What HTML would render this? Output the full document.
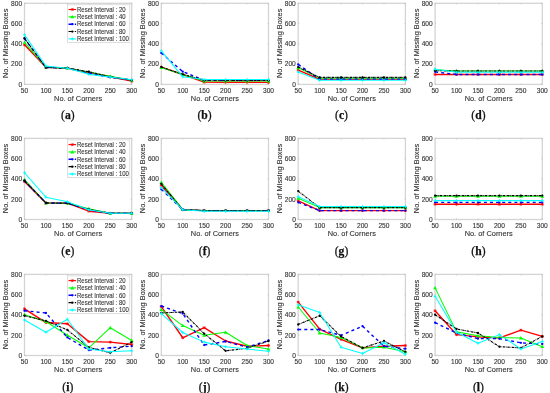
<!DOCTYPE html>
<html><head><meta charset="utf-8"><style>
html,body{margin:0;padding:0;background:#fff;}
body{width:550px;height:393px;overflow:hidden;position:relative;}
svg{display:block;}
body{filter:blur(0.3px);}
text{font-family:"Liberation Sans",sans-serif;font-size:6.6px;fill:#333;stroke:#333;stroke-width:0.12px;}
.ov{position:absolute;left:0;top:0;opacity:0.999;}
text.lb{font-size:7.4px;fill:#333;stroke:#333;stroke-width:0.12px;}
text.lg{font-size:6.7px;fill:#333;stroke:#333;stroke-width:0.1px;}
text.cap{font-family:"Liberation Serif",serif;font-weight:normal;font-size:11.6px;fill:#111;stroke:#111;stroke-width:0.25px;}
</style></head><body>
<svg width="550" height="393" viewBox="0 0 550 393">
<rect width="550" height="393" fill="#fff"/>
<g><rect x="24.5" y="3.3" width="107.2" height="81.1" fill="#fff" stroke="#d4d4d4" stroke-width="1.3"/><path d="M24.5 84.4v-1.2M24.5 3.3v1.2" stroke="#bdbdbd" stroke-width="0.6"/><path d="M45.94 84.4v-1.2M45.94 3.3v1.2" stroke="#bdbdbd" stroke-width="0.6"/><path d="M67.38 84.4v-1.2M67.38 3.3v1.2" stroke="#bdbdbd" stroke-width="0.6"/><path d="M88.82 84.4v-1.2M88.82 3.3v1.2" stroke="#bdbdbd" stroke-width="0.6"/><path d="M110.26 84.4v-1.2M110.26 3.3v1.2" stroke="#bdbdbd" stroke-width="0.6"/><path d="M131.7 84.4v-1.2M131.7 3.3v1.2" stroke="#bdbdbd" stroke-width="0.6"/><path d="M24.5 84.4h1.2M131.7 84.4h-1.2" stroke="#bdbdbd" stroke-width="0.6"/><path d="M24.5 64.12h1.2M131.7 64.12h-1.2" stroke="#bdbdbd" stroke-width="0.6"/><path d="M24.5 43.85h1.2M131.7 43.85h-1.2" stroke="#bdbdbd" stroke-width="0.6"/><path d="M24.5 23.57h1.2M131.7 23.57h-1.2" stroke="#bdbdbd" stroke-width="0.6"/><path d="M24.5 3.3h1.2M131.7 3.3h-1.2" stroke="#bdbdbd" stroke-width="0.6"/><path d="M24.5 44.86 L45.94 67.17 L67.38 68.18 L88.82 72.74 L110.26 76.8 L131.7 81.16" fill="none" stroke="#ff0000" stroke-width="1.4" stroke-linejoin="round"/><path d="M23 44.86H26M24.5 43.36V46.36M23.45 43.81L25.55 45.91M23.45 45.91L25.55 43.81" stroke="#ff0000" stroke-width="0.8" fill="none"/><path d="M44.44 67.17H47.44M45.94 65.67V68.67M44.89 66.12L46.99 68.22M44.89 68.22L46.99 66.12" stroke="#ff0000" stroke-width="0.8" fill="none"/><path d="M65.88 68.18H68.88M67.38 66.68V69.68M66.33 67.13L68.43 69.23M66.33 69.23L68.43 67.13" stroke="#ff0000" stroke-width="0.8" fill="none"/><path d="M87.32 72.74H90.32M88.82 71.24V74.24M87.77 71.69L89.87 73.79M87.77 73.79L89.87 71.69" stroke="#ff0000" stroke-width="0.8" fill="none"/><path d="M108.76 76.8H111.76M110.26 75.3V78.3M109.21 75.75L111.31 77.85M109.21 77.85L111.31 75.75" stroke="#ff0000" stroke-width="0.8" fill="none"/><path d="M130.2 81.16H133.2M131.7 79.66V82.66M130.65 80.11L132.75 82.21M130.65 82.21L132.75 80.11" stroke="#ff0000" stroke-width="0.8" fill="none"/><path d="M24.5 42.33 L45.94 67.17 L67.38 68.18 L88.82 72.23 L110.26 76.29 L131.7 80.34" fill="none" stroke="#00ff00" stroke-width="1.05" stroke-linejoin="round"/><path d="M24.5 40.43L26.4 43.75L22.6 43.75Z" fill="#00ff00"/><path d="M45.94 65.27L47.84 68.59L44.04 68.59Z" fill="#00ff00"/><path d="M67.38 66.28L69.28 69.6L65.48 69.6Z" fill="#00ff00"/><path d="M88.82 70.33L90.72 73.66L86.92 73.66Z" fill="#00ff00"/><path d="M110.26 74.39L112.16 77.71L108.36 77.71Z" fill="#00ff00"/><path d="M131.7 78.44L133.6 81.77L129.8 81.77Z" fill="#00ff00"/><path d="M24.5 38.58 L45.94 67.37 L67.38 68.18 L88.82 73.25 L110.26 77.3 L131.7 79.94" fill="none" stroke="#0000ff" stroke-width="1.4" stroke-linejoin="round" stroke-dasharray="3,3.1"/><circle cx="24.5" cy="38.58" r="1.15" fill="#0000ff"/><circle cx="45.94" cy="67.37" r="1.15" fill="#0000ff"/><circle cx="67.38" cy="68.18" r="1.15" fill="#0000ff"/><circle cx="88.82" cy="73.25" r="1.15" fill="#0000ff"/><circle cx="110.26" cy="77.3" r="1.15" fill="#0000ff"/><circle cx="131.7" cy="79.94" r="1.15" fill="#0000ff"/><path d="M24.5 38.27 L45.94 67.67 L67.38 67.98 L88.82 71.73 L110.26 76.8 L131.7 80.34" fill="none" stroke="#000000" stroke-width="1.1" stroke-linejoin="round" stroke-dasharray="2.4,0.7,0.7,0.7"/><circle cx="24.5" cy="38.27" r="1.15" fill="#000000"/><circle cx="45.94" cy="67.67" r="1.15" fill="#000000"/><circle cx="67.38" cy="67.98" r="1.15" fill="#000000"/><circle cx="88.82" cy="71.73" r="1.15" fill="#000000"/><circle cx="110.26" cy="76.8" r="1.15" fill="#000000"/><circle cx="131.7" cy="80.34" r="1.15" fill="#000000"/><path d="M24.5 34.83 L45.94 66.05 L67.38 68.18 L88.82 74.36 L110.26 77.1 L131.7 79.74" fill="none" stroke="#00ffff" stroke-width="1.05" stroke-linejoin="round"/><path d="M23 34.83H26M24.5 33.33V36.33" stroke="#00ffff" stroke-width="0.9" fill="none"/><path d="M44.44 66.05H47.44M45.94 64.55V67.55" stroke="#00ffff" stroke-width="0.9" fill="none"/><path d="M65.88 68.18H68.88M67.38 66.68V69.68" stroke="#00ffff" stroke-width="0.9" fill="none"/><path d="M87.32 74.36H90.32M88.82 72.86V75.86" stroke="#00ffff" stroke-width="0.9" fill="none"/><path d="M108.76 77.1H111.76M110.26 75.6V78.6" stroke="#00ffff" stroke-width="0.9" fill="none"/><path d="M130.2 79.74H133.2M131.7 78.24V81.24" stroke="#00ffff" stroke-width="0.9" fill="none"/><rect x="67.5" y="4.8" width="62.3" height="37.7" fill="#fff" stroke="#c8c8c8" stroke-width="0.6"/><path d="M68.5 9.5H76.1" stroke="#ff0000" stroke-width="1.1"/><path d="M70.8 9.5H73.8M72.3 8V11M71.25 8.45L73.35 10.55M71.25 10.55L73.35 8.45" stroke="#ff0000" stroke-width="0.8" fill="none"/><path d="M68.5 16.85H76.1" stroke="#00ff00" stroke-width="1.1"/><path d="M72.3 14.95L74.2 18.28L70.4 18.28Z" fill="#00ff00"/><path d="M68.5 24.2H76.1" stroke="#0000ff" stroke-width="1.5" stroke-dasharray="4.8,1.5,1.3,9"/><circle cx="72.3" cy="24.2" r="1.15" fill="#0000ff"/><path d="M68.5 31.55H76.1" stroke="#000000" stroke-width="1.1" stroke-dasharray="4.8,1.5,1.3,9"/><circle cx="72.3" cy="31.55" r="1.15" fill="#000000"/><path d="M68.5 38.9H76.1" stroke="#00ffff" stroke-width="1.1"/><path d="M70.8 38.9H73.8M72.3 37.4V40.4" stroke="#00ffff" stroke-width="0.9" fill="none"/></g>
<g><rect x="161.3" y="3.3" width="107.2" height="81.1" fill="#fff" stroke="#d4d4d4" stroke-width="1.3"/><path d="M161.3 84.4v-1.2M161.3 3.3v1.2" stroke="#bdbdbd" stroke-width="0.6"/><path d="M182.74 84.4v-1.2M182.74 3.3v1.2" stroke="#bdbdbd" stroke-width="0.6"/><path d="M204.18 84.4v-1.2M204.18 3.3v1.2" stroke="#bdbdbd" stroke-width="0.6"/><path d="M225.62 84.4v-1.2M225.62 3.3v1.2" stroke="#bdbdbd" stroke-width="0.6"/><path d="M247.06 84.4v-1.2M247.06 3.3v1.2" stroke="#bdbdbd" stroke-width="0.6"/><path d="M268.5 84.4v-1.2M268.5 3.3v1.2" stroke="#bdbdbd" stroke-width="0.6"/><path d="M161.3 84.4h1.2M268.5 84.4h-1.2" stroke="#bdbdbd" stroke-width="0.6"/><path d="M161.3 64.12h1.2M268.5 64.12h-1.2" stroke="#bdbdbd" stroke-width="0.6"/><path d="M161.3 43.85h1.2M268.5 43.85h-1.2" stroke="#bdbdbd" stroke-width="0.6"/><path d="M161.3 23.57h1.2M268.5 23.57h-1.2" stroke="#bdbdbd" stroke-width="0.6"/><path d="M161.3 3.3h1.2M268.5 3.3h-1.2" stroke="#bdbdbd" stroke-width="0.6"/><path d="M161.3 67.17 L182.74 74.47 L204.18 82.17 L225.62 82.27 L247.06 82.27 L268.5 82.37" fill="none" stroke="#ff0000" stroke-width="1.4" stroke-linejoin="round"/><path d="M159.8 67.17H162.8M161.3 65.67V68.67M160.25 66.12L162.35 68.22M160.25 68.22L162.35 66.12" stroke="#ff0000" stroke-width="0.8" fill="none"/><path d="M181.24 74.47H184.24M182.74 72.97V75.97M181.69 73.42L183.79 75.52M181.69 75.52L183.79 73.42" stroke="#ff0000" stroke-width="0.8" fill="none"/><path d="M202.68 82.17H205.68M204.18 80.67V83.67M203.13 81.12L205.23 83.22M203.13 83.22L205.23 81.12" stroke="#ff0000" stroke-width="0.8" fill="none"/><path d="M224.12 82.27H227.12M225.62 80.77V83.77M224.57 81.22L226.67 83.32M224.57 83.32L226.67 81.22" stroke="#ff0000" stroke-width="0.8" fill="none"/><path d="M245.56 82.27H248.56M247.06 80.77V83.77M246.01 81.22L248.11 83.32M246.01 83.32L248.11 81.22" stroke="#ff0000" stroke-width="0.8" fill="none"/><path d="M267 82.37H270M268.5 80.87V83.87M267.45 81.32L269.55 83.42M267.45 83.42L269.55 81.32" stroke="#ff0000" stroke-width="0.8" fill="none"/><path d="M161.3 67.57 L182.74 74.47 L204.18 80.95 L225.62 81.05 L247.06 81.05 L268.5 81.05" fill="none" stroke="#00ff00" stroke-width="1.05" stroke-linejoin="round"/><path d="M161.3 65.67L163.2 69L159.4 69Z" fill="#00ff00"/><path d="M182.74 72.57L184.64 75.89L180.84 75.89Z" fill="#00ff00"/><path d="M204.18 79.05L206.08 82.38L202.28 82.38Z" fill="#00ff00"/><path d="M225.62 79.15L227.52 82.48L223.72 82.48Z" fill="#00ff00"/><path d="M247.06 79.15L248.96 82.48L245.16 82.48Z" fill="#00ff00"/><path d="M268.5 79.15L270.4 82.48L266.6 82.48Z" fill="#00ff00"/><path d="M161.3 52.97 L182.74 71.63 L204.18 80.24 L225.62 80.34 L247.06 80.34 L268.5 80.34" fill="none" stroke="#0000ff" stroke-width="1.4" stroke-linejoin="round" stroke-dasharray="3,3.1"/><circle cx="161.3" cy="52.97" r="1.15" fill="#0000ff"/><circle cx="182.74" cy="71.63" r="1.15" fill="#0000ff"/><circle cx="204.18" cy="80.24" r="1.15" fill="#0000ff"/><circle cx="225.62" cy="80.34" r="1.15" fill="#0000ff"/><circle cx="247.06" cy="80.34" r="1.15" fill="#0000ff"/><circle cx="268.5" cy="80.34" r="1.15" fill="#0000ff"/><path d="M161.3 66.96 L182.74 74.36 L204.18 80.24 L225.62 80.34 L247.06 80.34 L268.5 80.34" fill="none" stroke="#000000" stroke-width="1.1" stroke-linejoin="round" stroke-dasharray="2.4,0.7,0.7,0.7"/><circle cx="161.3" cy="66.96" r="1.15" fill="#000000"/><circle cx="182.74" cy="74.36" r="1.15" fill="#000000"/><circle cx="204.18" cy="80.24" r="1.15" fill="#000000"/><circle cx="225.62" cy="80.34" r="1.15" fill="#000000"/><circle cx="247.06" cy="80.34" r="1.15" fill="#000000"/><circle cx="268.5" cy="80.34" r="1.15" fill="#000000"/><path d="M161.3 50.84 L182.74 76.8 L204.18 79.53 L225.62 79.53 L247.06 79.53 L268.5 79.53" fill="none" stroke="#00ffff" stroke-width="1.05" stroke-linejoin="round"/><path d="M159.8 50.84H162.8M161.3 49.34V52.34" stroke="#00ffff" stroke-width="0.9" fill="none"/><path d="M181.24 76.8H184.24M182.74 75.3V78.3" stroke="#00ffff" stroke-width="0.9" fill="none"/><path d="M202.68 79.53H205.68M204.18 78.03V81.03" stroke="#00ffff" stroke-width="0.9" fill="none"/><path d="M224.12 79.53H227.12M225.62 78.03V81.03" stroke="#00ffff" stroke-width="0.9" fill="none"/><path d="M245.56 79.53H248.56M247.06 78.03V81.03" stroke="#00ffff" stroke-width="0.9" fill="none"/><path d="M267 79.53H270M268.5 78.03V81.03" stroke="#00ffff" stroke-width="0.9" fill="none"/></g>
<g><rect x="298.2" y="3.3" width="107.2" height="81.1" fill="#fff" stroke="#d4d4d4" stroke-width="1.3"/><path d="M298.2 84.4v-1.2M298.2 3.3v1.2" stroke="#bdbdbd" stroke-width="0.6"/><path d="M319.64 84.4v-1.2M319.64 3.3v1.2" stroke="#bdbdbd" stroke-width="0.6"/><path d="M341.08 84.4v-1.2M341.08 3.3v1.2" stroke="#bdbdbd" stroke-width="0.6"/><path d="M362.52 84.4v-1.2M362.52 3.3v1.2" stroke="#bdbdbd" stroke-width="0.6"/><path d="M383.96 84.4v-1.2M383.96 3.3v1.2" stroke="#bdbdbd" stroke-width="0.6"/><path d="M405.4 84.4v-1.2M405.4 3.3v1.2" stroke="#bdbdbd" stroke-width="0.6"/><path d="M298.2 84.4h1.2M405.4 84.4h-1.2" stroke="#bdbdbd" stroke-width="0.6"/><path d="M298.2 64.12h1.2M405.4 64.12h-1.2" stroke="#bdbdbd" stroke-width="0.6"/><path d="M298.2 43.85h1.2M405.4 43.85h-1.2" stroke="#bdbdbd" stroke-width="0.6"/><path d="M298.2 23.57h1.2M405.4 23.57h-1.2" stroke="#bdbdbd" stroke-width="0.6"/><path d="M298.2 3.3h1.2M405.4 3.3h-1.2" stroke="#bdbdbd" stroke-width="0.6"/><path d="M298.2 70.21 L319.64 79.23 L341.08 79.23 L362.52 79.23 L383.96 79.23 L405.4 79.23" fill="none" stroke="#ff0000" stroke-width="1.4" stroke-linejoin="round"/><path d="M296.7 70.21H299.7M298.2 68.71V71.71M297.15 69.16L299.25 71.26M297.15 71.26L299.25 69.16" stroke="#ff0000" stroke-width="0.8" fill="none"/><path d="M318.14 79.23H321.14M319.64 77.73V80.73M318.59 78.18L320.69 80.28M318.59 80.28L320.69 78.18" stroke="#ff0000" stroke-width="0.8" fill="none"/><path d="M339.58 79.23H342.58M341.08 77.73V80.73M340.03 78.18L342.13 80.28M340.03 80.28L342.13 78.18" stroke="#ff0000" stroke-width="0.8" fill="none"/><path d="M361.02 79.23H364.02M362.52 77.73V80.73M361.47 78.18L363.57 80.28M361.47 80.28L363.57 78.18" stroke="#ff0000" stroke-width="0.8" fill="none"/><path d="M382.46 79.23H385.46M383.96 77.73V80.73M382.91 78.18L385.01 80.28M382.91 80.28L385.01 78.18" stroke="#ff0000" stroke-width="0.8" fill="none"/><path d="M403.9 79.23H406.9M405.4 77.73V80.73M404.35 78.18L406.45 80.28M404.35 80.28L406.45 78.18" stroke="#ff0000" stroke-width="0.8" fill="none"/><path d="M298.2 67.88 L319.64 78.11 L341.08 78.11 L362.52 78.11 L383.96 78.11 L405.4 78.11" fill="none" stroke="#00ff00" stroke-width="1.05" stroke-linejoin="round"/><path d="M298.2 65.98L300.1 69.3L296.3 69.3Z" fill="#00ff00"/><path d="M319.64 76.21L321.54 79.54L317.74 79.54Z" fill="#00ff00"/><path d="M341.08 76.21L342.98 79.54L339.18 79.54Z" fill="#00ff00"/><path d="M362.52 76.21L364.42 79.54L360.62 79.54Z" fill="#00ff00"/><path d="M383.96 76.21L385.86 79.54L382.06 79.54Z" fill="#00ff00"/><path d="M405.4 76.21L407.3 79.54L403.5 79.54Z" fill="#00ff00"/><path d="M298.2 64.43 L319.64 79.23 L341.08 79.23 L362.52 79.23 L383.96 79.23 L405.4 79.23" fill="none" stroke="#0000ff" stroke-width="1.4" stroke-linejoin="round" stroke-dasharray="3,3.1"/><circle cx="298.2" cy="64.43" r="1.15" fill="#0000ff"/><circle cx="319.64" cy="79.23" r="1.15" fill="#0000ff"/><circle cx="341.08" cy="79.23" r="1.15" fill="#0000ff"/><circle cx="362.52" cy="79.23" r="1.15" fill="#0000ff"/><circle cx="383.96" cy="79.23" r="1.15" fill="#0000ff"/><circle cx="405.4" cy="79.23" r="1.15" fill="#0000ff"/><path d="M298.2 67.06 L319.64 77.41 L341.08 77.41 L362.52 77.41 L383.96 77.41 L405.4 77.41" fill="none" stroke="#000000" stroke-width="1.1" stroke-linejoin="round" stroke-dasharray="2.4,0.7,0.7,0.7"/><circle cx="298.2" cy="67.06" r="1.15" fill="#000000"/><circle cx="319.64" cy="77.41" r="1.15" fill="#000000"/><circle cx="341.08" cy="77.41" r="1.15" fill="#000000"/><circle cx="362.52" cy="77.41" r="1.15" fill="#000000"/><circle cx="383.96" cy="77.41" r="1.15" fill="#000000"/><circle cx="405.4" cy="77.41" r="1.15" fill="#000000"/><path d="M298.2 71.93 L319.64 80.34 L341.08 80.34 L362.52 80.34 L383.96 80.34 L405.4 80.34" fill="none" stroke="#00ffff" stroke-width="1.05" stroke-linejoin="round"/><path d="M296.7 71.93H299.7M298.2 70.43V73.43" stroke="#00ffff" stroke-width="0.9" fill="none"/><path d="M318.14 80.34H321.14M319.64 78.84V81.84" stroke="#00ffff" stroke-width="0.9" fill="none"/><path d="M339.58 80.34H342.58M341.08 78.84V81.84" stroke="#00ffff" stroke-width="0.9" fill="none"/><path d="M361.02 80.34H364.02M362.52 78.84V81.84" stroke="#00ffff" stroke-width="0.9" fill="none"/><path d="M382.46 80.34H385.46M383.96 78.84V81.84" stroke="#00ffff" stroke-width="0.9" fill="none"/><path d="M403.9 80.34H406.9M405.4 78.84V81.84" stroke="#00ffff" stroke-width="0.9" fill="none"/></g>
<g><rect x="435.1" y="3.3" width="107.2" height="81.1" fill="#fff" stroke="#d4d4d4" stroke-width="1.3"/><path d="M435.1 84.4v-1.2M435.1 3.3v1.2" stroke="#bdbdbd" stroke-width="0.6"/><path d="M456.54 84.4v-1.2M456.54 3.3v1.2" stroke="#bdbdbd" stroke-width="0.6"/><path d="M477.98 84.4v-1.2M477.98 3.3v1.2" stroke="#bdbdbd" stroke-width="0.6"/><path d="M499.42 84.4v-1.2M499.42 3.3v1.2" stroke="#bdbdbd" stroke-width="0.6"/><path d="M520.86 84.4v-1.2M520.86 3.3v1.2" stroke="#bdbdbd" stroke-width="0.6"/><path d="M542.3 84.4v-1.2M542.3 3.3v1.2" stroke="#bdbdbd" stroke-width="0.6"/><path d="M435.1 84.4h1.2M542.3 84.4h-1.2" stroke="#bdbdbd" stroke-width="0.6"/><path d="M435.1 64.12h1.2M542.3 64.12h-1.2" stroke="#bdbdbd" stroke-width="0.6"/><path d="M435.1 43.85h1.2M542.3 43.85h-1.2" stroke="#bdbdbd" stroke-width="0.6"/><path d="M435.1 23.57h1.2M542.3 23.57h-1.2" stroke="#bdbdbd" stroke-width="0.6"/><path d="M435.1 3.3h1.2M542.3 3.3h-1.2" stroke="#bdbdbd" stroke-width="0.6"/><path d="M435.1 74.47 L456.54 74.47 L477.98 74.47 L499.42 74.47 L520.86 74.47 L542.3 74.47" fill="none" stroke="#ff0000" stroke-width="1.4" stroke-linejoin="round"/><path d="M433.6 74.47H436.6M435.1 72.97V75.97M434.05 73.42L436.15 75.52M434.05 75.52L436.15 73.42" stroke="#ff0000" stroke-width="0.8" fill="none"/><path d="M455.04 74.47H458.04M456.54 72.97V75.97M455.49 73.42L457.59 75.52M455.49 75.52L457.59 73.42" stroke="#ff0000" stroke-width="0.8" fill="none"/><path d="M476.48 74.47H479.48M477.98 72.97V75.97M476.93 73.42L479.03 75.52M476.93 75.52L479.03 73.42" stroke="#ff0000" stroke-width="0.8" fill="none"/><path d="M497.92 74.47H500.92M499.42 72.97V75.97M498.37 73.42L500.47 75.52M498.37 75.52L500.47 73.42" stroke="#ff0000" stroke-width="0.8" fill="none"/><path d="M519.36 74.47H522.36M520.86 72.97V75.97M519.81 73.42L521.91 75.52M519.81 75.52L521.91 73.42" stroke="#ff0000" stroke-width="0.8" fill="none"/><path d="M540.8 74.47H543.8M542.3 72.97V75.97M541.25 73.42L543.35 75.52M541.25 75.52L543.35 73.42" stroke="#ff0000" stroke-width="0.8" fill="none"/><path d="M435.1 69.7 L456.54 71.02 L477.98 71.02 L499.42 71.02 L520.86 71.02 L542.3 71.02" fill="none" stroke="#00ff00" stroke-width="1.05" stroke-linejoin="round"/><path d="M435.1 67.8L437 71.13L433.2 71.13Z" fill="#00ff00"/><path d="M456.54 69.12L458.44 72.44L454.64 72.44Z" fill="#00ff00"/><path d="M477.98 69.12L479.88 72.44L476.08 72.44Z" fill="#00ff00"/><path d="M499.42 69.12L501.32 72.44L497.52 72.44Z" fill="#00ff00"/><path d="M520.86 69.12L522.76 72.44L518.96 72.44Z" fill="#00ff00"/><path d="M542.3 69.12L544.2 72.44L540.4 72.44Z" fill="#00ff00"/><path d="M435.1 71.83 L456.54 74.47 L477.98 74.47 L499.42 74.47 L520.86 74.47 L542.3 74.47" fill="none" stroke="#0000ff" stroke-width="1.4" stroke-linejoin="round" stroke-dasharray="3,3.1"/><circle cx="435.1" cy="71.83" r="1.15" fill="#0000ff"/><circle cx="456.54" cy="74.47" r="1.15" fill="#0000ff"/><circle cx="477.98" cy="74.47" r="1.15" fill="#0000ff"/><circle cx="499.42" cy="74.47" r="1.15" fill="#0000ff"/><circle cx="520.86" cy="74.47" r="1.15" fill="#0000ff"/><circle cx="542.3" cy="74.47" r="1.15" fill="#0000ff"/><path d="M435.1 70.71 L456.54 71.02 L477.98 71.02 L499.42 71.02 L520.86 71.02 L542.3 71.02" fill="none" stroke="#000000" stroke-width="1.1" stroke-linejoin="round" stroke-dasharray="2.4,0.7,0.7,0.7"/><circle cx="435.1" cy="70.71" r="1.15" fill="#000000"/><circle cx="456.54" cy="71.02" r="1.15" fill="#000000"/><circle cx="477.98" cy="71.02" r="1.15" fill="#000000"/><circle cx="499.42" cy="71.02" r="1.15" fill="#000000"/><circle cx="520.86" cy="71.02" r="1.15" fill="#000000"/><circle cx="542.3" cy="71.02" r="1.15" fill="#000000"/><path d="M435.1 69.19 L456.54 72.34 L477.98 72.34 L499.42 72.34 L520.86 72.34 L542.3 72.34" fill="none" stroke="#00ffff" stroke-width="1.05" stroke-linejoin="round"/><path d="M433.6 69.19H436.6M435.1 67.69V70.69" stroke="#00ffff" stroke-width="0.9" fill="none"/><path d="M455.04 72.34H458.04M456.54 70.84V73.84" stroke="#00ffff" stroke-width="0.9" fill="none"/><path d="M476.48 72.34H479.48M477.98 70.84V73.84" stroke="#00ffff" stroke-width="0.9" fill="none"/><path d="M497.92 72.34H500.92M499.42 70.84V73.84" stroke="#00ffff" stroke-width="0.9" fill="none"/><path d="M519.36 72.34H522.36M520.86 70.84V73.84" stroke="#00ffff" stroke-width="0.9" fill="none"/><path d="M540.8 72.34H543.8M542.3 70.84V73.84" stroke="#00ffff" stroke-width="0.9" fill="none"/></g>
<g><rect x="24.5" y="138.4" width="107.2" height="81.1" fill="#fff" stroke="#d4d4d4" stroke-width="1.3"/><path d="M24.5 219.5v-1.2M24.5 138.4v1.2" stroke="#bdbdbd" stroke-width="0.6"/><path d="M45.94 219.5v-1.2M45.94 138.4v1.2" stroke="#bdbdbd" stroke-width="0.6"/><path d="M67.38 219.5v-1.2M67.38 138.4v1.2" stroke="#bdbdbd" stroke-width="0.6"/><path d="M88.82 219.5v-1.2M88.82 138.4v1.2" stroke="#bdbdbd" stroke-width="0.6"/><path d="M110.26 219.5v-1.2M110.26 138.4v1.2" stroke="#bdbdbd" stroke-width="0.6"/><path d="M131.7 219.5v-1.2M131.7 138.4v1.2" stroke="#bdbdbd" stroke-width="0.6"/><path d="M24.5 219.5h1.2M131.7 219.5h-1.2" stroke="#bdbdbd" stroke-width="0.6"/><path d="M24.5 199.22h1.2M131.7 199.22h-1.2" stroke="#bdbdbd" stroke-width="0.6"/><path d="M24.5 178.95h1.2M131.7 178.95h-1.2" stroke="#bdbdbd" stroke-width="0.6"/><path d="M24.5 158.68h1.2M131.7 158.68h-1.2" stroke="#bdbdbd" stroke-width="0.6"/><path d="M24.5 138.4h1.2M131.7 138.4h-1.2" stroke="#bdbdbd" stroke-width="0.6"/><path d="M24.5 181.48 L45.94 202.98 L67.38 203.18 L88.82 211.19 L110.26 213.32 L131.7 213.32" fill="none" stroke="#ff0000" stroke-width="1.4" stroke-linejoin="round"/><path d="M23 181.48H26M24.5 179.98V182.98M23.45 180.43L25.55 182.53M23.45 182.53L25.55 180.43" stroke="#ff0000" stroke-width="0.8" fill="none"/><path d="M44.44 202.98H47.44M45.94 201.48V204.48M44.89 201.93L46.99 204.03M44.89 204.03L46.99 201.93" stroke="#ff0000" stroke-width="0.8" fill="none"/><path d="M65.88 203.18H68.88M67.38 201.68V204.68M66.33 202.13L68.43 204.23M66.33 204.23L68.43 202.13" stroke="#ff0000" stroke-width="0.8" fill="none"/><path d="M87.32 211.19H90.32M88.82 209.69V212.69M87.77 210.14L89.87 212.24M87.77 212.24L89.87 210.14" stroke="#ff0000" stroke-width="0.8" fill="none"/><path d="M108.76 213.32H111.76M110.26 211.82V214.82M109.21 212.27L111.31 214.37M109.21 214.37L111.31 212.27" stroke="#ff0000" stroke-width="0.8" fill="none"/><path d="M130.2 213.32H133.2M131.7 211.82V214.82M130.65 212.27L132.75 214.37M130.65 214.37L132.75 212.27" stroke="#ff0000" stroke-width="0.8" fill="none"/><path d="M24.5 179.56 L45.94 202.98 L67.38 203.18 L88.82 208.65 L110.26 213.32 L131.7 213.32" fill="none" stroke="#00ff00" stroke-width="1.05" stroke-linejoin="round"/><path d="M24.5 177.66L26.4 180.98L22.6 180.98Z" fill="#00ff00"/><path d="M45.94 201.08L47.84 204.4L44.04 204.4Z" fill="#00ff00"/><path d="M67.38 201.28L69.28 204.6L65.48 204.6Z" fill="#00ff00"/><path d="M88.82 206.75L90.72 210.08L86.92 210.08Z" fill="#00ff00"/><path d="M110.26 211.42L112.16 214.74L108.36 214.74Z" fill="#00ff00"/><path d="M131.7 211.42L133.6 214.74L129.8 214.74Z" fill="#00ff00"/><path d="M24.5 180.77 L45.94 202.98 L67.38 203.18 L88.82 209.77 L110.26 213.32 L131.7 213.32" fill="none" stroke="#0000ff" stroke-width="1.4" stroke-linejoin="round" stroke-dasharray="3,3.1"/><circle cx="24.5" cy="180.77" r="1.15" fill="#0000ff"/><circle cx="45.94" cy="202.98" r="1.15" fill="#0000ff"/><circle cx="67.38" cy="203.18" r="1.15" fill="#0000ff"/><circle cx="88.82" cy="209.77" r="1.15" fill="#0000ff"/><circle cx="110.26" cy="213.32" r="1.15" fill="#0000ff"/><circle cx="131.7" cy="213.32" r="1.15" fill="#0000ff"/><path d="M24.5 180.77 L45.94 202.98 L67.38 203.18 L88.82 209.36 L110.26 213.32 L131.7 213.32" fill="none" stroke="#000000" stroke-width="1.1" stroke-linejoin="round" stroke-dasharray="2.4,0.7,0.7,0.7"/><circle cx="24.5" cy="180.77" r="1.15" fill="#000000"/><circle cx="45.94" cy="202.98" r="1.15" fill="#000000"/><circle cx="67.38" cy="203.18" r="1.15" fill="#000000"/><circle cx="88.82" cy="209.36" r="1.15" fill="#000000"/><circle cx="110.26" cy="213.32" r="1.15" fill="#000000"/><circle cx="131.7" cy="213.32" r="1.15" fill="#000000"/><path d="M24.5 172.77 L45.94 197.2 L67.38 201.76 L88.82 209.77 L110.26 213.32 L131.7 213.32" fill="none" stroke="#00ffff" stroke-width="1.05" stroke-linejoin="round"/><path d="M23 172.77H26M24.5 171.27V174.27" stroke="#00ffff" stroke-width="0.9" fill="none"/><path d="M44.44 197.2H47.44M45.94 195.7V198.7" stroke="#00ffff" stroke-width="0.9" fill="none"/><path d="M65.88 201.76H68.88M67.38 200.26V203.26" stroke="#00ffff" stroke-width="0.9" fill="none"/><path d="M87.32 209.77H90.32M88.82 208.27V211.27" stroke="#00ffff" stroke-width="0.9" fill="none"/><path d="M108.76 213.32H111.76M110.26 211.82V214.82" stroke="#00ffff" stroke-width="0.9" fill="none"/><path d="M130.2 213.32H133.2M131.7 211.82V214.82" stroke="#00ffff" stroke-width="0.9" fill="none"/><rect x="67.5" y="139.9" width="62.3" height="37.7" fill="#fff" stroke="#c8c8c8" stroke-width="0.6"/><path d="M68.5 144.6H76.1" stroke="#ff0000" stroke-width="1.1"/><path d="M70.8 144.6H73.8M72.3 143.1V146.1M71.25 143.55L73.35 145.65M71.25 145.65L73.35 143.55" stroke="#ff0000" stroke-width="0.8" fill="none"/><path d="M68.5 151.95H76.1" stroke="#00ff00" stroke-width="1.1"/><path d="M72.3 150.05L74.2 153.38L70.4 153.38Z" fill="#00ff00"/><path d="M68.5 159.3H76.1" stroke="#0000ff" stroke-width="1.5" stroke-dasharray="4.8,1.5,1.3,9"/><circle cx="72.3" cy="159.3" r="1.15" fill="#0000ff"/><path d="M68.5 166.65H76.1" stroke="#000000" stroke-width="1.1" stroke-dasharray="4.8,1.5,1.3,9"/><circle cx="72.3" cy="166.65" r="1.15" fill="#000000"/><path d="M68.5 174H76.1" stroke="#00ffff" stroke-width="1.1"/><path d="M70.8 174H73.8M72.3 172.5V175.5" stroke="#00ffff" stroke-width="0.9" fill="none"/></g>
<g><rect x="161.3" y="138.4" width="107.2" height="81.1" fill="#fff" stroke="#d4d4d4" stroke-width="1.3"/><path d="M161.3 219.5v-1.2M161.3 138.4v1.2" stroke="#bdbdbd" stroke-width="0.6"/><path d="M182.74 219.5v-1.2M182.74 138.4v1.2" stroke="#bdbdbd" stroke-width="0.6"/><path d="M204.18 219.5v-1.2M204.18 138.4v1.2" stroke="#bdbdbd" stroke-width="0.6"/><path d="M225.62 219.5v-1.2M225.62 138.4v1.2" stroke="#bdbdbd" stroke-width="0.6"/><path d="M247.06 219.5v-1.2M247.06 138.4v1.2" stroke="#bdbdbd" stroke-width="0.6"/><path d="M268.5 219.5v-1.2M268.5 138.4v1.2" stroke="#bdbdbd" stroke-width="0.6"/><path d="M161.3 219.5h1.2M268.5 219.5h-1.2" stroke="#bdbdbd" stroke-width="0.6"/><path d="M161.3 199.22h1.2M268.5 199.22h-1.2" stroke="#bdbdbd" stroke-width="0.6"/><path d="M161.3 178.95h1.2M268.5 178.95h-1.2" stroke="#bdbdbd" stroke-width="0.6"/><path d="M161.3 158.68h1.2M268.5 158.68h-1.2" stroke="#bdbdbd" stroke-width="0.6"/><path d="M161.3 138.4h1.2M268.5 138.4h-1.2" stroke="#bdbdbd" stroke-width="0.6"/><path d="M161.3 185.44 L182.74 209.67 L204.18 210.58 L225.62 210.58 L247.06 210.58 L268.5 210.58" fill="none" stroke="#ff0000" stroke-width="1.4" stroke-linejoin="round"/><path d="M159.8 185.44H162.8M161.3 183.94V186.94M160.25 184.39L162.35 186.49M160.25 186.49L162.35 184.39" stroke="#ff0000" stroke-width="0.8" fill="none"/><path d="M181.24 209.67H184.24M182.74 208.17V211.17M181.69 208.62L183.79 210.72M181.69 210.72L183.79 208.62" stroke="#ff0000" stroke-width="0.8" fill="none"/><path d="M202.68 210.58H205.68M204.18 209.08V212.08M203.13 209.53L205.23 211.63M203.13 211.63L205.23 209.53" stroke="#ff0000" stroke-width="0.8" fill="none"/><path d="M224.12 210.58H227.12M225.62 209.08V212.08M224.57 209.53L226.67 211.63M224.57 211.63L226.67 209.53" stroke="#ff0000" stroke-width="0.8" fill="none"/><path d="M245.56 210.58H248.56M247.06 209.08V212.08M246.01 209.53L248.11 211.63M246.01 211.63L248.11 209.53" stroke="#ff0000" stroke-width="0.8" fill="none"/><path d="M267 210.58H270M268.5 209.08V212.08M267.45 209.53L269.55 211.63M267.45 211.63L269.55 209.53" stroke="#ff0000" stroke-width="0.8" fill="none"/><path d="M161.3 182.4 L182.74 209.67 L204.18 210.58 L225.62 210.58 L247.06 210.58 L268.5 210.58" fill="none" stroke="#00ff00" stroke-width="1.05" stroke-linejoin="round"/><path d="M161.3 180.5L163.2 183.82L159.4 183.82Z" fill="#00ff00"/><path d="M182.74 207.77L184.64 211.09L180.84 211.09Z" fill="#00ff00"/><path d="M204.18 208.68L206.08 212L202.28 212Z" fill="#00ff00"/><path d="M225.62 208.68L227.52 212L223.72 212Z" fill="#00ff00"/><path d="M247.06 208.68L248.96 212L245.16 212Z" fill="#00ff00"/><path d="M268.5 208.68L270.4 212L266.6 212Z" fill="#00ff00"/><path d="M161.3 189.29 L182.74 209.67 L204.18 210.58 L225.62 210.58 L247.06 210.58 L268.5 210.58" fill="none" stroke="#0000ff" stroke-width="1.4" stroke-linejoin="round" stroke-dasharray="3,3.1"/><circle cx="161.3" cy="189.29" r="1.15" fill="#0000ff"/><circle cx="182.74" cy="209.67" r="1.15" fill="#0000ff"/><circle cx="204.18" cy="210.58" r="1.15" fill="#0000ff"/><circle cx="225.62" cy="210.58" r="1.15" fill="#0000ff"/><circle cx="247.06" cy="210.58" r="1.15" fill="#0000ff"/><circle cx="268.5" cy="210.58" r="1.15" fill="#0000ff"/><path d="M161.3 183.82 L182.74 209.67 L204.18 210.58 L225.62 210.58 L247.06 210.58 L268.5 210.58" fill="none" stroke="#000000" stroke-width="1.1" stroke-linejoin="round" stroke-dasharray="2.4,0.7,0.7,0.7"/><circle cx="161.3" cy="183.82" r="1.15" fill="#000000"/><circle cx="182.74" cy="209.67" r="1.15" fill="#000000"/><circle cx="204.18" cy="210.58" r="1.15" fill="#000000"/><circle cx="225.62" cy="210.58" r="1.15" fill="#000000"/><circle cx="247.06" cy="210.58" r="1.15" fill="#000000"/><circle cx="268.5" cy="210.58" r="1.15" fill="#000000"/><path d="M161.3 187.67 L182.74 209.67 L204.18 211.29 L225.62 211.29 L247.06 211.29 L268.5 211.29" fill="none" stroke="#00ffff" stroke-width="1.05" stroke-linejoin="round"/><path d="M159.8 187.67H162.8M161.3 186.17V189.17" stroke="#00ffff" stroke-width="0.9" fill="none"/><path d="M181.24 209.67H184.24M182.74 208.17V211.17" stroke="#00ffff" stroke-width="0.9" fill="none"/><path d="M202.68 211.29H205.68M204.18 209.79V212.79" stroke="#00ffff" stroke-width="0.9" fill="none"/><path d="M224.12 211.29H227.12M225.62 209.79V212.79" stroke="#00ffff" stroke-width="0.9" fill="none"/><path d="M245.56 211.29H248.56M247.06 209.79V212.79" stroke="#00ffff" stroke-width="0.9" fill="none"/><path d="M267 211.29H270M268.5 209.79V212.79" stroke="#00ffff" stroke-width="0.9" fill="none"/></g>
<g><rect x="298.2" y="138.4" width="107.2" height="81.1" fill="#fff" stroke="#d4d4d4" stroke-width="1.3"/><path d="M298.2 219.5v-1.2M298.2 138.4v1.2" stroke="#bdbdbd" stroke-width="0.6"/><path d="M319.64 219.5v-1.2M319.64 138.4v1.2" stroke="#bdbdbd" stroke-width="0.6"/><path d="M341.08 219.5v-1.2M341.08 138.4v1.2" stroke="#bdbdbd" stroke-width="0.6"/><path d="M362.52 219.5v-1.2M362.52 138.4v1.2" stroke="#bdbdbd" stroke-width="0.6"/><path d="M383.96 219.5v-1.2M383.96 138.4v1.2" stroke="#bdbdbd" stroke-width="0.6"/><path d="M405.4 219.5v-1.2M405.4 138.4v1.2" stroke="#bdbdbd" stroke-width="0.6"/><path d="M298.2 219.5h1.2M405.4 219.5h-1.2" stroke="#bdbdbd" stroke-width="0.6"/><path d="M298.2 199.22h1.2M405.4 199.22h-1.2" stroke="#bdbdbd" stroke-width="0.6"/><path d="M298.2 178.95h1.2M405.4 178.95h-1.2" stroke="#bdbdbd" stroke-width="0.6"/><path d="M298.2 158.68h1.2M405.4 158.68h-1.2" stroke="#bdbdbd" stroke-width="0.6"/><path d="M298.2 138.4h1.2M405.4 138.4h-1.2" stroke="#bdbdbd" stroke-width="0.6"/><path d="M298.2 200.85 L319.64 210.58 L341.08 210.58 L362.52 210.58 L383.96 210.58 L405.4 210.58" fill="none" stroke="#ff0000" stroke-width="1.4" stroke-linejoin="round"/><path d="M296.7 200.85H299.7M298.2 199.35V202.35M297.15 199.8L299.25 201.9M297.15 201.9L299.25 199.8" stroke="#ff0000" stroke-width="0.8" fill="none"/><path d="M318.14 210.58H321.14M319.64 209.08V212.08M318.59 209.53L320.69 211.63M318.59 211.63L320.69 209.53" stroke="#ff0000" stroke-width="0.8" fill="none"/><path d="M339.58 210.58H342.58M341.08 209.08V212.08M340.03 209.53L342.13 211.63M340.03 211.63L342.13 209.53" stroke="#ff0000" stroke-width="0.8" fill="none"/><path d="M361.02 210.58H364.02M362.52 209.08V212.08M361.47 209.53L363.57 211.63M361.47 211.63L363.57 209.53" stroke="#ff0000" stroke-width="0.8" fill="none"/><path d="M382.46 210.58H385.46M383.96 209.08V212.08M382.91 209.53L385.01 211.63M382.91 211.63L385.01 209.53" stroke="#ff0000" stroke-width="0.8" fill="none"/><path d="M403.9 210.58H406.9M405.4 209.08V212.08M404.35 209.53L406.45 211.63M404.35 211.63L406.45 209.53" stroke="#ff0000" stroke-width="0.8" fill="none"/><path d="M298.2 198.31 L319.64 207.64 L341.08 207.64 L362.52 207.64 L383.96 207.64 L405.4 207.64" fill="none" stroke="#00ff00" stroke-width="1.05" stroke-linejoin="round"/><path d="M298.2 196.41L300.1 199.74L296.3 199.74Z" fill="#00ff00"/><path d="M319.64 205.74L321.54 209.06L317.74 209.06Z" fill="#00ff00"/><path d="M341.08 205.74L342.98 209.06L339.18 209.06Z" fill="#00ff00"/><path d="M362.52 205.74L364.42 209.06L360.62 209.06Z" fill="#00ff00"/><path d="M383.96 205.74L385.86 209.06L382.06 209.06Z" fill="#00ff00"/><path d="M405.4 205.74L407.3 209.06L403.5 209.06Z" fill="#00ff00"/><path d="M298.2 202.37 L319.64 210.58 L341.08 210.58 L362.52 210.58 L383.96 210.58 L405.4 210.58" fill="none" stroke="#0000ff" stroke-width="1.4" stroke-linejoin="round" stroke-dasharray="3,3.1"/><circle cx="298.2" cy="202.37" r="1.15" fill="#0000ff"/><circle cx="319.64" cy="210.58" r="1.15" fill="#0000ff"/><circle cx="341.08" cy="210.58" r="1.15" fill="#0000ff"/><circle cx="362.52" cy="210.58" r="1.15" fill="#0000ff"/><circle cx="383.96" cy="210.58" r="1.15" fill="#0000ff"/><circle cx="405.4" cy="210.58" r="1.15" fill="#0000ff"/><path d="M298.2 191.12 L319.64 207.64 L341.08 207.64 L362.52 207.64 L383.96 207.64 L405.4 207.64" fill="none" stroke="#000000" stroke-width="1.1" stroke-linejoin="round" stroke-dasharray="2.4,0.7,0.7,0.7"/><circle cx="298.2" cy="191.12" r="1.15" fill="#000000"/><circle cx="319.64" cy="207.64" r="1.15" fill="#000000"/><circle cx="341.08" cy="207.64" r="1.15" fill="#000000"/><circle cx="362.52" cy="207.64" r="1.15" fill="#000000"/><circle cx="383.96" cy="207.64" r="1.15" fill="#000000"/><circle cx="405.4" cy="207.64" r="1.15" fill="#000000"/><path d="M298.2 196.69 L319.64 206.52 L341.08 206.52 L362.52 206.52 L383.96 206.52 L405.4 206.52" fill="none" stroke="#00ffff" stroke-width="1.05" stroke-linejoin="round"/><path d="M296.7 196.69H299.7M298.2 195.19V198.19" stroke="#00ffff" stroke-width="0.9" fill="none"/><path d="M318.14 206.52H321.14M319.64 205.02V208.02" stroke="#00ffff" stroke-width="0.9" fill="none"/><path d="M339.58 206.52H342.58M341.08 205.02V208.02" stroke="#00ffff" stroke-width="0.9" fill="none"/><path d="M361.02 206.52H364.02M362.52 205.02V208.02" stroke="#00ffff" stroke-width="0.9" fill="none"/><path d="M382.46 206.52H385.46M383.96 205.02V208.02" stroke="#00ffff" stroke-width="0.9" fill="none"/><path d="M403.9 206.52H406.9M405.4 205.02V208.02" stroke="#00ffff" stroke-width="0.9" fill="none"/></g>
<g><rect x="435.1" y="138.4" width="107.2" height="81.1" fill="#fff" stroke="#d4d4d4" stroke-width="1.3"/><path d="M435.1 219.5v-1.2M435.1 138.4v1.2" stroke="#bdbdbd" stroke-width="0.6"/><path d="M456.54 219.5v-1.2M456.54 138.4v1.2" stroke="#bdbdbd" stroke-width="0.6"/><path d="M477.98 219.5v-1.2M477.98 138.4v1.2" stroke="#bdbdbd" stroke-width="0.6"/><path d="M499.42 219.5v-1.2M499.42 138.4v1.2" stroke="#bdbdbd" stroke-width="0.6"/><path d="M520.86 219.5v-1.2M520.86 138.4v1.2" stroke="#bdbdbd" stroke-width="0.6"/><path d="M542.3 219.5v-1.2M542.3 138.4v1.2" stroke="#bdbdbd" stroke-width="0.6"/><path d="M435.1 219.5h1.2M542.3 219.5h-1.2" stroke="#bdbdbd" stroke-width="0.6"/><path d="M435.1 199.22h1.2M542.3 199.22h-1.2" stroke="#bdbdbd" stroke-width="0.6"/><path d="M435.1 178.95h1.2M542.3 178.95h-1.2" stroke="#bdbdbd" stroke-width="0.6"/><path d="M435.1 158.68h1.2M542.3 158.68h-1.2" stroke="#bdbdbd" stroke-width="0.6"/><path d="M435.1 138.4h1.2M542.3 138.4h-1.2" stroke="#bdbdbd" stroke-width="0.6"/><path d="M435.1 204.29 L456.54 204.29 L477.98 204.29 L499.42 204.29 L520.86 204.29 L542.3 204.29" fill="none" stroke="#ff0000" stroke-width="1.4" stroke-linejoin="round"/><path d="M433.6 204.29H436.6M435.1 202.79V205.79M434.05 203.24L436.15 205.34M434.05 205.34L436.15 203.24" stroke="#ff0000" stroke-width="0.8" fill="none"/><path d="M455.04 204.29H458.04M456.54 202.79V205.79M455.49 203.24L457.59 205.34M455.49 205.34L457.59 203.24" stroke="#ff0000" stroke-width="0.8" fill="none"/><path d="M476.48 204.29H479.48M477.98 202.79V205.79M476.93 203.24L479.03 205.34M476.93 205.34L479.03 203.24" stroke="#ff0000" stroke-width="0.8" fill="none"/><path d="M497.92 204.29H500.92M499.42 202.79V205.79M498.37 203.24L500.47 205.34M498.37 205.34L500.47 203.24" stroke="#ff0000" stroke-width="0.8" fill="none"/><path d="M519.36 204.29H522.36M520.86 202.79V205.79M519.81 203.24L521.91 205.34M519.81 205.34L521.91 203.24" stroke="#ff0000" stroke-width="0.8" fill="none"/><path d="M540.8 204.29H543.8M542.3 202.79V205.79M541.25 203.24L543.35 205.34M541.25 205.34L543.35 203.24" stroke="#ff0000" stroke-width="0.8" fill="none"/><path d="M435.1 196.29 L456.54 196.29 L477.98 196.29 L499.42 196.29 L520.86 196.29 L542.3 196.29" fill="none" stroke="#00ff00" stroke-width="1.05" stroke-linejoin="round"/><path d="M435.1 194.39L437 197.71L433.2 197.71Z" fill="#00ff00"/><path d="M456.54 194.39L458.44 197.71L454.64 197.71Z" fill="#00ff00"/><path d="M477.98 194.39L479.88 197.71L476.08 197.71Z" fill="#00ff00"/><path d="M499.42 194.39L501.32 197.71L497.52 197.71Z" fill="#00ff00"/><path d="M520.86 194.39L522.76 197.71L518.96 197.71Z" fill="#00ff00"/><path d="M542.3 194.39L544.2 197.71L540.4 197.71Z" fill="#00ff00"/><path d="M435.1 202.37 L456.54 202.37 L477.98 202.37 L499.42 202.37 L520.86 202.37 L542.3 202.37" fill="none" stroke="#0000ff" stroke-width="1.4" stroke-linejoin="round" stroke-dasharray="3,3.1"/><circle cx="435.1" cy="202.37" r="1.15" fill="#0000ff"/><circle cx="456.54" cy="202.37" r="1.15" fill="#0000ff"/><circle cx="477.98" cy="202.37" r="1.15" fill="#0000ff"/><circle cx="499.42" cy="202.37" r="1.15" fill="#0000ff"/><circle cx="520.86" cy="202.37" r="1.15" fill="#0000ff"/><circle cx="542.3" cy="202.37" r="1.15" fill="#0000ff"/><path d="M435.1 195.58 L456.54 195.58 L477.98 195.58 L499.42 195.58 L520.86 195.58 L542.3 195.58" fill="none" stroke="#000000" stroke-width="1.1" stroke-linejoin="round" stroke-dasharray="2.4,0.7,0.7,0.7"/><circle cx="435.1" cy="195.58" r="1.15" fill="#000000"/><circle cx="456.54" cy="195.58" r="1.15" fill="#000000"/><circle cx="477.98" cy="195.58" r="1.15" fill="#000000"/><circle cx="499.42" cy="195.58" r="1.15" fill="#000000"/><circle cx="520.86" cy="195.58" r="1.15" fill="#000000"/><circle cx="542.3" cy="195.58" r="1.15" fill="#000000"/><path d="M435.1 200.64 L456.54 200.64 L477.98 200.64 L499.42 200.64 L520.86 200.64 L542.3 200.64" fill="none" stroke="#00ffff" stroke-width="1.05" stroke-linejoin="round"/><path d="M433.6 200.64H436.6M435.1 199.14V202.14" stroke="#00ffff" stroke-width="0.9" fill="none"/><path d="M455.04 200.64H458.04M456.54 199.14V202.14" stroke="#00ffff" stroke-width="0.9" fill="none"/><path d="M476.48 200.64H479.48M477.98 199.14V202.14" stroke="#00ffff" stroke-width="0.9" fill="none"/><path d="M497.92 200.64H500.92M499.42 199.14V202.14" stroke="#00ffff" stroke-width="0.9" fill="none"/><path d="M519.36 200.64H522.36M520.86 199.14V202.14" stroke="#00ffff" stroke-width="0.9" fill="none"/><path d="M540.8 200.64H543.8M542.3 199.14V202.14" stroke="#00ffff" stroke-width="0.9" fill="none"/></g>
<g><rect x="24.5" y="274.4" width="107.2" height="81.1" fill="#fff" stroke="#d4d4d4" stroke-width="1.3"/><path d="M24.5 355.5v-1.2M24.5 274.4v1.2" stroke="#bdbdbd" stroke-width="0.6"/><path d="M45.94 355.5v-1.2M45.94 274.4v1.2" stroke="#bdbdbd" stroke-width="0.6"/><path d="M67.38 355.5v-1.2M67.38 274.4v1.2" stroke="#bdbdbd" stroke-width="0.6"/><path d="M88.82 355.5v-1.2M88.82 274.4v1.2" stroke="#bdbdbd" stroke-width="0.6"/><path d="M110.26 355.5v-1.2M110.26 274.4v1.2" stroke="#bdbdbd" stroke-width="0.6"/><path d="M131.7 355.5v-1.2M131.7 274.4v1.2" stroke="#bdbdbd" stroke-width="0.6"/><path d="M24.5 355.5h1.2M131.7 355.5h-1.2" stroke="#bdbdbd" stroke-width="0.6"/><path d="M24.5 335.23h1.2M131.7 335.23h-1.2" stroke="#bdbdbd" stroke-width="0.6"/><path d="M24.5 314.95h1.2M131.7 314.95h-1.2" stroke="#bdbdbd" stroke-width="0.6"/><path d="M24.5 294.68h1.2M131.7 294.68h-1.2" stroke="#bdbdbd" stroke-width="0.6"/><path d="M24.5 274.4h1.2M131.7 274.4h-1.2" stroke="#bdbdbd" stroke-width="0.6"/><path d="M24.5 308.87 L45.94 322.55 L67.38 323.77 L88.82 341.61 L110.26 342.12 L131.7 344.45" fill="none" stroke="#ff0000" stroke-width="1.4" stroke-linejoin="round"/><path d="M23 308.87H26M24.5 307.37V310.37M23.45 307.82L25.55 309.92M23.45 309.92L25.55 307.82" stroke="#ff0000" stroke-width="0.8" fill="none"/><path d="M44.44 322.55H47.44M45.94 321.05V324.05M44.89 321.5L46.99 323.6M44.89 323.6L46.99 321.5" stroke="#ff0000" stroke-width="0.8" fill="none"/><path d="M65.88 323.77H68.88M67.38 322.27V325.27M66.33 322.72L68.43 324.82M66.33 324.82L68.43 322.72" stroke="#ff0000" stroke-width="0.8" fill="none"/><path d="M87.32 341.61H90.32M88.82 340.11V343.11M87.77 340.56L89.87 342.66M87.77 342.66L89.87 340.56" stroke="#ff0000" stroke-width="0.8" fill="none"/><path d="M108.76 342.12H111.76M110.26 340.62V343.62M109.21 341.07L111.31 343.17M109.21 343.17L111.31 341.07" stroke="#ff0000" stroke-width="0.8" fill="none"/><path d="M130.2 344.45H133.2M131.7 342.95V345.95M130.65 343.4L132.75 345.5M130.65 345.5L132.75 343.4" stroke="#ff0000" stroke-width="0.8" fill="none"/><path d="M24.5 314.65 L45.94 321.54 L67.38 335.23 L88.82 347.8 L110.26 327.72 L131.7 340.5" fill="none" stroke="#00ff00" stroke-width="1.05" stroke-linejoin="round"/><path d="M24.5 312.75L26.4 316.07L22.6 316.07Z" fill="#00ff00"/><path d="M45.94 319.64L47.84 322.96L44.04 322.96Z" fill="#00ff00"/><path d="M67.38 333.33L69.28 336.65L65.48 336.65Z" fill="#00ff00"/><path d="M88.82 345.9L90.72 349.22L86.92 349.22Z" fill="#00ff00"/><path d="M110.26 325.82L112.16 329.15L108.36 329.15Z" fill="#00ff00"/><path d="M131.7 338.6L133.6 341.92L129.8 341.92Z" fill="#00ff00"/><path d="M24.5 310.69 L45.94 313.02 L67.38 337.46 L88.82 350.13 L110.26 347.8 L131.7 346.17" fill="none" stroke="#0000ff" stroke-width="1.4" stroke-linejoin="round" stroke-dasharray="3,3.1"/><circle cx="24.5" cy="310.69" r="1.15" fill="#0000ff"/><circle cx="45.94" cy="313.02" r="1.15" fill="#0000ff"/><circle cx="67.38" cy="337.46" r="1.15" fill="#0000ff"/><circle cx="88.82" cy="350.13" r="1.15" fill="#0000ff"/><circle cx="110.26" cy="347.8" r="1.15" fill="#0000ff"/><circle cx="131.7" cy="346.17" r="1.15" fill="#0000ff"/><path d="M24.5 315.76 L45.94 320.83 L67.38 329.95 L88.82 347.29 L110.26 352.76 L131.7 342.12" fill="none" stroke="#000000" stroke-width="1.1" stroke-linejoin="round" stroke-dasharray="2.4,0.7,0.7,0.7"/><circle cx="24.5" cy="315.76" r="1.15" fill="#000000"/><circle cx="45.94" cy="320.83" r="1.15" fill="#000000"/><circle cx="67.38" cy="329.95" r="1.15" fill="#000000"/><circle cx="88.82" cy="347.29" r="1.15" fill="#000000"/><circle cx="110.26" cy="352.76" r="1.15" fill="#000000"/><circle cx="131.7" cy="342.12" r="1.15" fill="#000000"/><path d="M24.5 319.92 L45.94 332.18 L67.38 319.21 L88.82 349.01 L110.26 351.85 L131.7 350.84" fill="none" stroke="#00ffff" stroke-width="1.05" stroke-linejoin="round"/><path d="M23 319.92H26M24.5 318.42V321.42" stroke="#00ffff" stroke-width="0.9" fill="none"/><path d="M44.44 332.18H47.44M45.94 330.68V333.68" stroke="#00ffff" stroke-width="0.9" fill="none"/><path d="M65.88 319.21H68.88M67.38 317.71V320.71" stroke="#00ffff" stroke-width="0.9" fill="none"/><path d="M87.32 349.01H90.32M88.82 347.51V350.51" stroke="#00ffff" stroke-width="0.9" fill="none"/><path d="M108.76 351.85H111.76M110.26 350.35V353.35" stroke="#00ffff" stroke-width="0.9" fill="none"/><path d="M130.2 350.84H133.2M131.7 349.34V352.34" stroke="#00ffff" stroke-width="0.9" fill="none"/><rect x="67.5" y="275.9" width="62.3" height="37.7" fill="#fff" stroke="#c8c8c8" stroke-width="0.6"/><path d="M68.5 280.6H76.1" stroke="#ff0000" stroke-width="1.1"/><path d="M70.8 280.6H73.8M72.3 279.1V282.1M71.25 279.55L73.35 281.65M71.25 281.65L73.35 279.55" stroke="#ff0000" stroke-width="0.8" fill="none"/><path d="M68.5 287.95H76.1" stroke="#00ff00" stroke-width="1.1"/><path d="M72.3 286.05L74.2 289.38L70.4 289.38Z" fill="#00ff00"/><path d="M68.5 295.3H76.1" stroke="#0000ff" stroke-width="1.5" stroke-dasharray="4.8,1.5,1.3,9"/><circle cx="72.3" cy="295.3" r="1.15" fill="#0000ff"/><path d="M68.5 302.65H76.1" stroke="#000000" stroke-width="1.1" stroke-dasharray="4.8,1.5,1.3,9"/><circle cx="72.3" cy="302.65" r="1.15" fill="#000000"/><path d="M68.5 310H76.1" stroke="#00ffff" stroke-width="1.1"/><path d="M70.8 310H73.8M72.3 308.5V311.5" stroke="#00ffff" stroke-width="0.9" fill="none"/></g>
<g><rect x="161.3" y="274.4" width="107.2" height="81.1" fill="#fff" stroke="#d4d4d4" stroke-width="1.3"/><path d="M161.3 355.5v-1.2M161.3 274.4v1.2" stroke="#bdbdbd" stroke-width="0.6"/><path d="M182.74 355.5v-1.2M182.74 274.4v1.2" stroke="#bdbdbd" stroke-width="0.6"/><path d="M204.18 355.5v-1.2M204.18 274.4v1.2" stroke="#bdbdbd" stroke-width="0.6"/><path d="M225.62 355.5v-1.2M225.62 274.4v1.2" stroke="#bdbdbd" stroke-width="0.6"/><path d="M247.06 355.5v-1.2M247.06 274.4v1.2" stroke="#bdbdbd" stroke-width="0.6"/><path d="M268.5 355.5v-1.2M268.5 274.4v1.2" stroke="#bdbdbd" stroke-width="0.6"/><path d="M161.3 355.5h1.2M268.5 355.5h-1.2" stroke="#bdbdbd" stroke-width="0.6"/><path d="M161.3 335.23h1.2M268.5 335.23h-1.2" stroke="#bdbdbd" stroke-width="0.6"/><path d="M161.3 314.95h1.2M268.5 314.95h-1.2" stroke="#bdbdbd" stroke-width="0.6"/><path d="M161.3 294.68h1.2M268.5 294.68h-1.2" stroke="#bdbdbd" stroke-width="0.6"/><path d="M161.3 274.4h1.2M268.5 274.4h-1.2" stroke="#bdbdbd" stroke-width="0.6"/><path d="M161.3 306.64 L182.74 337.76 L204.18 327.72 L225.62 341 L247.06 346.27 L268.5 345.57" fill="none" stroke="#ff0000" stroke-width="1.4" stroke-linejoin="round"/><path d="M159.8 306.64H162.8M161.3 305.14V308.14M160.25 305.59L162.35 307.69M160.25 307.69L162.35 305.59" stroke="#ff0000" stroke-width="0.8" fill="none"/><path d="M181.24 337.76H184.24M182.74 336.26V339.26M181.69 336.71L183.79 338.81M181.69 338.81L183.79 336.71" stroke="#ff0000" stroke-width="0.8" fill="none"/><path d="M202.68 327.72H205.68M204.18 326.22V329.22M203.13 326.67L205.23 328.77M203.13 328.77L205.23 326.67" stroke="#ff0000" stroke-width="0.8" fill="none"/><path d="M224.12 341H227.12M225.62 339.5V342.5M224.57 339.95L226.67 342.05M224.57 342.05L226.67 339.95" stroke="#ff0000" stroke-width="0.8" fill="none"/><path d="M245.56 346.27H248.56M247.06 344.77V347.77M246.01 345.22L248.11 347.32M246.01 347.32L248.11 345.22" stroke="#ff0000" stroke-width="0.8" fill="none"/><path d="M267 345.57H270M268.5 344.07V347.07M267.45 344.52L269.55 346.62M267.45 346.62L269.55 344.52" stroke="#ff0000" stroke-width="0.8" fill="none"/><path d="M161.3 309.58 L182.74 325.59 L204.18 335.33 L225.62 332.29 L247.06 345.57 L268.5 349.01" fill="none" stroke="#00ff00" stroke-width="1.05" stroke-linejoin="round"/><path d="M161.3 307.68L163.2 311L159.4 311Z" fill="#00ff00"/><path d="M182.74 323.69L184.64 327.02L180.84 327.02Z" fill="#00ff00"/><path d="M204.18 333.43L206.08 336.75L202.28 336.75Z" fill="#00ff00"/><path d="M225.62 330.39L227.52 333.71L223.72 333.71Z" fill="#00ff00"/><path d="M247.06 343.67L248.96 346.99L245.16 346.99Z" fill="#00ff00"/><path d="M268.5 347.11L270.4 350.44L266.6 350.44Z" fill="#00ff00"/><path d="M161.3 306.03 L182.74 313.53 L204.18 345.06 L225.62 341.41 L247.06 347.19 L268.5 340.5" fill="none" stroke="#0000ff" stroke-width="1.4" stroke-linejoin="round" stroke-dasharray="3,3.1"/><circle cx="161.3" cy="306.03" r="1.15" fill="#0000ff"/><circle cx="182.74" cy="313.53" r="1.15" fill="#0000ff"/><circle cx="204.18" cy="345.06" r="1.15" fill="#0000ff"/><circle cx="225.62" cy="341.41" r="1.15" fill="#0000ff"/><circle cx="247.06" cy="347.19" r="1.15" fill="#0000ff"/><circle cx="268.5" cy="340.5" r="1.15" fill="#0000ff"/><path d="M161.3 313.02 L182.74 311.91 L204.18 333.7 L225.62 350.84 L247.06 348.3 L268.5 341" fill="none" stroke="#000000" stroke-width="1.1" stroke-linejoin="round" stroke-dasharray="2.4,0.7,0.7,0.7"/><circle cx="161.3" cy="313.02" r="1.15" fill="#000000"/><circle cx="182.74" cy="311.91" r="1.15" fill="#000000"/><circle cx="204.18" cy="333.7" r="1.15" fill="#000000"/><circle cx="225.62" cy="350.84" r="1.15" fill="#000000"/><circle cx="247.06" cy="348.3" r="1.15" fill="#000000"/><circle cx="268.5" cy="341" r="1.15" fill="#000000"/><path d="M161.3 313.53 L182.74 332.49 L204.18 342.12 L225.62 346.68 L247.06 349.01 L268.5 351.34" fill="none" stroke="#00ffff" stroke-width="1.05" stroke-linejoin="round"/><path d="M159.8 313.53H162.8M161.3 312.03V315.03" stroke="#00ffff" stroke-width="0.9" fill="none"/><path d="M181.24 332.49H184.24M182.74 330.99V333.99" stroke="#00ffff" stroke-width="0.9" fill="none"/><path d="M202.68 342.12H205.68M204.18 340.62V343.62" stroke="#00ffff" stroke-width="0.9" fill="none"/><path d="M224.12 346.68H227.12M225.62 345.18V348.18" stroke="#00ffff" stroke-width="0.9" fill="none"/><path d="M245.56 349.01H248.56M247.06 347.51V350.51" stroke="#00ffff" stroke-width="0.9" fill="none"/><path d="M267 351.34H270M268.5 349.84V352.84" stroke="#00ffff" stroke-width="0.9" fill="none"/></g>
<g><rect x="298.2" y="274.4" width="107.2" height="81.1" fill="#fff" stroke="#d4d4d4" stroke-width="1.3"/><path d="M298.2 355.5v-1.2M298.2 274.4v1.2" stroke="#bdbdbd" stroke-width="0.6"/><path d="M319.64 355.5v-1.2M319.64 274.4v1.2" stroke="#bdbdbd" stroke-width="0.6"/><path d="M341.08 355.5v-1.2M341.08 274.4v1.2" stroke="#bdbdbd" stroke-width="0.6"/><path d="M362.52 355.5v-1.2M362.52 274.4v1.2" stroke="#bdbdbd" stroke-width="0.6"/><path d="M383.96 355.5v-1.2M383.96 274.4v1.2" stroke="#bdbdbd" stroke-width="0.6"/><path d="M405.4 355.5v-1.2M405.4 274.4v1.2" stroke="#bdbdbd" stroke-width="0.6"/><path d="M298.2 355.5h1.2M405.4 355.5h-1.2" stroke="#bdbdbd" stroke-width="0.6"/><path d="M298.2 335.23h1.2M405.4 335.23h-1.2" stroke="#bdbdbd" stroke-width="0.6"/><path d="M298.2 314.95h1.2M405.4 314.95h-1.2" stroke="#bdbdbd" stroke-width="0.6"/><path d="M298.2 294.68h1.2M405.4 294.68h-1.2" stroke="#bdbdbd" stroke-width="0.6"/><path d="M298.2 274.4h1.2M405.4 274.4h-1.2" stroke="#bdbdbd" stroke-width="0.6"/><path d="M298.2 302.08 L319.64 329.14 L341.08 339.38 L362.52 347.9 L383.96 346.27 L405.4 345.57" fill="none" stroke="#ff0000" stroke-width="1.4" stroke-linejoin="round"/><path d="M296.7 302.08H299.7M298.2 300.58V303.58M297.15 301.03L299.25 303.13M297.15 303.13L299.25 301.03" stroke="#ff0000" stroke-width="0.8" fill="none"/><path d="M318.14 329.14H321.14M319.64 327.64V330.64M318.59 328.09L320.69 330.19M318.59 330.19L320.69 328.09" stroke="#ff0000" stroke-width="0.8" fill="none"/><path d="M339.58 339.38H342.58M341.08 337.88V340.88M340.03 338.33L342.13 340.43M340.03 340.43L342.13 338.33" stroke="#ff0000" stroke-width="0.8" fill="none"/><path d="M361.02 347.9H364.02M362.52 346.4V349.4M361.47 346.85L363.57 348.95M361.47 348.95L363.57 346.85" stroke="#ff0000" stroke-width="0.8" fill="none"/><path d="M382.46 346.27H385.46M383.96 344.77V347.77M382.91 345.22L385.01 347.32M382.91 347.32L385.01 345.22" stroke="#ff0000" stroke-width="0.8" fill="none"/><path d="M403.9 345.57H406.9M405.4 344.07V347.07M404.35 344.52L406.45 346.62M404.35 346.62L406.45 344.52" stroke="#ff0000" stroke-width="0.8" fill="none"/><path d="M298.2 307.04 L319.64 332.99 L341.08 337.56 L362.52 347.9 L383.96 347.19 L405.4 351.85" fill="none" stroke="#00ff00" stroke-width="1.05" stroke-linejoin="round"/><path d="M298.2 305.14L300.1 308.47L296.3 308.47Z" fill="#00ff00"/><path d="M319.64 331.09L321.54 334.42L317.74 334.42Z" fill="#00ff00"/><path d="M341.08 335.66L342.98 338.98L339.18 338.98Z" fill="#00ff00"/><path d="M362.52 346L364.42 349.32L360.62 349.32Z" fill="#00ff00"/><path d="M383.96 345.29L385.86 348.61L382.06 348.61Z" fill="#00ff00"/><path d="M405.4 349.95L407.3 353.28L403.5 353.28Z" fill="#00ff00"/><path d="M298.2 329.55 L319.64 329.55 L341.08 335.33 L362.52 326.2 L383.96 346.27 L405.4 348.71" fill="none" stroke="#0000ff" stroke-width="1.4" stroke-linejoin="round" stroke-dasharray="3,3.1"/><circle cx="298.2" cy="329.55" r="1.15" fill="#0000ff"/><circle cx="319.64" cy="329.55" r="1.15" fill="#0000ff"/><circle cx="341.08" cy="335.33" r="1.15" fill="#0000ff"/><circle cx="362.52" cy="326.2" r="1.15" fill="#0000ff"/><circle cx="383.96" cy="346.27" r="1.15" fill="#0000ff"/><circle cx="405.4" cy="348.71" r="1.15" fill="#0000ff"/><path d="M298.2 324.48 L319.64 315.76 L341.08 336.44 L362.52 347.9 L383.96 341 L405.4 351.85" fill="none" stroke="#000000" stroke-width="1.1" stroke-linejoin="round" stroke-dasharray="2.4,0.7,0.7,0.7"/><circle cx="298.2" cy="324.48" r="1.15" fill="#000000"/><circle cx="319.64" cy="315.76" r="1.15" fill="#000000"/><circle cx="341.08" cy="336.44" r="1.15" fill="#000000"/><circle cx="362.52" cy="347.9" r="1.15" fill="#000000"/><circle cx="383.96" cy="341" r="1.15" fill="#000000"/><circle cx="405.4" cy="351.85" r="1.15" fill="#000000"/><path d="M298.2 304.81 L319.64 312.42 L341.08 347.19 L362.52 353.47 L383.96 342.83 L405.4 354.18" fill="none" stroke="#00ffff" stroke-width="1.05" stroke-linejoin="round"/><path d="M296.7 304.81H299.7M298.2 303.31V306.31" stroke="#00ffff" stroke-width="0.9" fill="none"/><path d="M318.14 312.42H321.14M319.64 310.92V313.92" stroke="#00ffff" stroke-width="0.9" fill="none"/><path d="M339.58 347.19H342.58M341.08 345.69V348.69" stroke="#00ffff" stroke-width="0.9" fill="none"/><path d="M361.02 353.47H364.02M362.52 351.97V354.97" stroke="#00ffff" stroke-width="0.9" fill="none"/><path d="M382.46 342.83H385.46M383.96 341.33V344.33" stroke="#00ffff" stroke-width="0.9" fill="none"/><path d="M403.9 354.18H406.9M405.4 352.68V355.68" stroke="#00ffff" stroke-width="0.9" fill="none"/></g>
<g><rect x="435.1" y="274.4" width="107.2" height="81.1" fill="#fff" stroke="#d4d4d4" stroke-width="1.3"/><path d="M435.1 355.5v-1.2M435.1 274.4v1.2" stroke="#bdbdbd" stroke-width="0.6"/><path d="M456.54 355.5v-1.2M456.54 274.4v1.2" stroke="#bdbdbd" stroke-width="0.6"/><path d="M477.98 355.5v-1.2M477.98 274.4v1.2" stroke="#bdbdbd" stroke-width="0.6"/><path d="M499.42 355.5v-1.2M499.42 274.4v1.2" stroke="#bdbdbd" stroke-width="0.6"/><path d="M520.86 355.5v-1.2M520.86 274.4v1.2" stroke="#bdbdbd" stroke-width="0.6"/><path d="M542.3 355.5v-1.2M542.3 274.4v1.2" stroke="#bdbdbd" stroke-width="0.6"/><path d="M435.1 355.5h1.2M542.3 355.5h-1.2" stroke="#bdbdbd" stroke-width="0.6"/><path d="M435.1 335.23h1.2M542.3 335.23h-1.2" stroke="#bdbdbd" stroke-width="0.6"/><path d="M435.1 314.95h1.2M542.3 314.95h-1.2" stroke="#bdbdbd" stroke-width="0.6"/><path d="M435.1 294.68h1.2M542.3 294.68h-1.2" stroke="#bdbdbd" stroke-width="0.6"/><path d="M435.1 274.4h1.2M542.3 274.4h-1.2" stroke="#bdbdbd" stroke-width="0.6"/><path d="M435.1 310.79 L456.54 334.62 L477.98 336.85 L499.42 337.96 L520.86 330.16 L542.3 336.44" fill="none" stroke="#ff0000" stroke-width="1.4" stroke-linejoin="round"/><path d="M433.6 310.79H436.6M435.1 309.29V312.29M434.05 309.74L436.15 311.84M434.05 311.84L436.15 309.74" stroke="#ff0000" stroke-width="0.8" fill="none"/><path d="M455.04 334.62H458.04M456.54 333.12V336.12M455.49 333.57L457.59 335.67M455.49 335.67L457.59 333.57" stroke="#ff0000" stroke-width="0.8" fill="none"/><path d="M476.48 336.85H479.48M477.98 335.35V338.35M476.93 335.8L479.03 337.9M476.93 337.9L479.03 335.8" stroke="#ff0000" stroke-width="0.8" fill="none"/><path d="M497.92 337.96H500.92M499.42 336.46V339.46M498.37 336.91L500.47 339.01M498.37 339.01L500.47 336.91" stroke="#ff0000" stroke-width="0.8" fill="none"/><path d="M519.36 330.16H522.36M520.86 328.66V331.66M519.81 329.11L521.91 331.21M519.81 331.21L521.91 329.11" stroke="#ff0000" stroke-width="0.8" fill="none"/><path d="M540.8 336.44H543.8M542.3 334.94V337.94M541.25 335.39L543.35 337.49M541.25 337.49L543.35 335.39" stroke="#ff0000" stroke-width="0.8" fill="none"/><path d="M435.1 287.88 L456.54 331.88 L477.98 335.73 L499.42 337.56 L520.86 337.96 L542.3 346.68" fill="none" stroke="#00ff00" stroke-width="1.05" stroke-linejoin="round"/><path d="M435.1 285.98L437 289.31L433.2 289.31Z" fill="#00ff00"/><path d="M456.54 329.98L458.44 333.3L454.64 333.3Z" fill="#00ff00"/><path d="M477.98 333.83L479.88 337.16L476.08 337.16Z" fill="#00ff00"/><path d="M499.42 335.66L501.32 338.98L497.52 338.98Z" fill="#00ff00"/><path d="M520.86 336.06L522.76 339.39L518.96 339.39Z" fill="#00ff00"/><path d="M542.3 344.78L544.2 348.11L540.4 348.11Z" fill="#00ff00"/><path d="M435.1 322.65 L456.54 332.99 L477.98 338.67 L499.42 338.67 L520.86 342.83 L542.3 343.94" fill="none" stroke="#0000ff" stroke-width="1.4" stroke-linejoin="round" stroke-dasharray="3,3.1"/><circle cx="435.1" cy="322.65" r="1.15" fill="#0000ff"/><circle cx="456.54" cy="332.99" r="1.15" fill="#0000ff"/><circle cx="477.98" cy="338.67" r="1.15" fill="#0000ff"/><circle cx="499.42" cy="338.67" r="1.15" fill="#0000ff"/><circle cx="520.86" cy="342.83" r="1.15" fill="#0000ff"/><circle cx="542.3" cy="343.94" r="1.15" fill="#0000ff"/><path d="M435.1 314.75 L456.54 328.94 L477.98 332.99 L499.42 346.68 L520.86 347.9 L542.3 336.44" fill="none" stroke="#000000" stroke-width="1.1" stroke-linejoin="round" stroke-dasharray="2.4,0.7,0.7,0.7"/><circle cx="435.1" cy="314.75" r="1.15" fill="#000000"/><circle cx="456.54" cy="328.94" r="1.15" fill="#000000"/><circle cx="477.98" cy="332.99" r="1.15" fill="#000000"/><circle cx="499.42" cy="346.68" r="1.15" fill="#000000"/><circle cx="520.86" cy="347.9" r="1.15" fill="#000000"/><circle cx="542.3" cy="336.44" r="1.15" fill="#000000"/><path d="M435.1 296.3 L456.54 332.29 L477.98 343.23 L499.42 334.62 L520.86 349.01 L542.3 341.41" fill="none" stroke="#00ffff" stroke-width="1.05" stroke-linejoin="round"/><path d="M433.6 296.3H436.6M435.1 294.8V297.8" stroke="#00ffff" stroke-width="0.9" fill="none"/><path d="M455.04 332.29H458.04M456.54 330.79V333.79" stroke="#00ffff" stroke-width="0.9" fill="none"/><path d="M476.48 343.23H479.48M477.98 341.73V344.73" stroke="#00ffff" stroke-width="0.9" fill="none"/><path d="M497.92 334.62H500.92M499.42 333.12V336.12" stroke="#00ffff" stroke-width="0.9" fill="none"/><path d="M519.36 349.01H522.36M520.86 347.51V350.51" stroke="#00ffff" stroke-width="0.9" fill="none"/><path d="M540.8 341.41H543.8M542.3 339.91V342.91" stroke="#00ffff" stroke-width="0.9" fill="none"/></g>
</svg>
<svg class="ov" width="550" height="393" viewBox="0 0 550 393"><defs><filter id="gs" filterUnits="userSpaceOnUse" x="0" y="0" width="550" height="393"><feColorMatrix type="saturate" values="0"/></filter></defs><g filter="url(#gs)"><text x="24.5" y="92.8" text-anchor="middle">50</text>
<text x="45.94" y="92.8" text-anchor="middle">100</text>
<text x="67.38" y="92.8" text-anchor="middle">150</text>
<text x="88.82" y="92.8" text-anchor="middle">200</text>
<text x="110.26" y="92.8" text-anchor="middle">250</text>
<text x="131.7" y="92.8" text-anchor="middle">300</text>
<text x="22.1" y="86.75" text-anchor="end">0</text>
<text x="22.1" y="66.47" text-anchor="end">200</text>
<text x="22.1" y="46.2" text-anchor="end">400</text>
<text x="22.1" y="25.92" text-anchor="end">600</text>
<text x="22.1" y="5.65" text-anchor="end">800</text>
<text class="lb" x="78.1" y="101.2" text-anchor="middle">No. of Corners</text>
<text class="lb" transform="translate(8.4 43.35) rotate(-90)" text-anchor="middle">No. of Missing Boxes</text>
<text class="cap" x="67.8" y="119.4" text-anchor="middle">(<tspan font-weight="bold">a</tspan>)</text>
<text class="lg" x="77" y="11.75" textLength="48.6" lengthAdjust="spacingAndGlyphs">Reset Interval : 20</text>
<text class="lg" x="77" y="19.1" textLength="48.6" lengthAdjust="spacingAndGlyphs">Reset Interval : 40</text>
<text class="lg" x="77" y="26.45" textLength="48.6" lengthAdjust="spacingAndGlyphs">Reset Interval : 60</text>
<text class="lg" x="77" y="33.8" textLength="48.6" lengthAdjust="spacingAndGlyphs">Reset Interval : 80</text>
<text class="lg" x="77" y="41.15" textLength="51.9" lengthAdjust="spacingAndGlyphs">Reset Interval : 100</text>
<text x="161.3" y="92.8" text-anchor="middle">50</text>
<text x="182.74" y="92.8" text-anchor="middle">100</text>
<text x="204.18" y="92.8" text-anchor="middle">150</text>
<text x="225.62" y="92.8" text-anchor="middle">200</text>
<text x="247.06" y="92.8" text-anchor="middle">250</text>
<text x="268.5" y="92.8" text-anchor="middle">300</text>
<text x="158.9" y="86.75" text-anchor="end">0</text>
<text x="158.9" y="66.47" text-anchor="end">200</text>
<text x="158.9" y="46.2" text-anchor="end">400</text>
<text x="158.9" y="25.92" text-anchor="end">600</text>
<text x="158.9" y="5.65" text-anchor="end">800</text>
<text class="lb" x="214.9" y="101.2" text-anchor="middle">No. of Corners</text>
<text class="lb" transform="translate(145.2 43.35) rotate(-90)" text-anchor="middle">No. of Missing Boxes</text>
<text class="cap" x="204.6" y="119.4" text-anchor="middle">(<tspan font-weight="bold">b</tspan>)</text>
<text x="298.2" y="92.8" text-anchor="middle">50</text>
<text x="319.64" y="92.8" text-anchor="middle">100</text>
<text x="341.08" y="92.8" text-anchor="middle">150</text>
<text x="362.52" y="92.8" text-anchor="middle">200</text>
<text x="383.96" y="92.8" text-anchor="middle">250</text>
<text x="405.4" y="92.8" text-anchor="middle">300</text>
<text x="295.8" y="86.75" text-anchor="end">0</text>
<text x="295.8" y="66.47" text-anchor="end">200</text>
<text x="295.8" y="46.2" text-anchor="end">400</text>
<text x="295.8" y="25.92" text-anchor="end">600</text>
<text x="295.8" y="5.65" text-anchor="end">800</text>
<text class="lb" x="351.8" y="101.2" text-anchor="middle">No. of Corners</text>
<text class="lb" transform="translate(282.1 43.35) rotate(-90)" text-anchor="middle">No. of Missing Boxes</text>
<text class="cap" x="341.5" y="119.4" text-anchor="middle">(<tspan font-weight="bold">c</tspan>)</text>
<text x="435.1" y="92.8" text-anchor="middle">50</text>
<text x="456.54" y="92.8" text-anchor="middle">100</text>
<text x="477.98" y="92.8" text-anchor="middle">150</text>
<text x="499.42" y="92.8" text-anchor="middle">200</text>
<text x="520.86" y="92.8" text-anchor="middle">250</text>
<text x="542.3" y="92.8" text-anchor="middle">300</text>
<text x="432.7" y="86.75" text-anchor="end">0</text>
<text x="432.7" y="66.47" text-anchor="end">200</text>
<text x="432.7" y="46.2" text-anchor="end">400</text>
<text x="432.7" y="25.92" text-anchor="end">600</text>
<text x="432.7" y="5.65" text-anchor="end">800</text>
<text class="lb" x="488.7" y="101.2" text-anchor="middle">No. of Corners</text>
<text class="lb" transform="translate(419 43.35) rotate(-90)" text-anchor="middle">No. of Missing Boxes</text>
<text class="cap" x="478.4" y="119.4" text-anchor="middle">(<tspan font-weight="bold">d</tspan>)</text>
<text x="24.5" y="227.9" text-anchor="middle">50</text>
<text x="45.94" y="227.9" text-anchor="middle">100</text>
<text x="67.38" y="227.9" text-anchor="middle">150</text>
<text x="88.82" y="227.9" text-anchor="middle">200</text>
<text x="110.26" y="227.9" text-anchor="middle">250</text>
<text x="131.7" y="227.9" text-anchor="middle">300</text>
<text x="22.1" y="221.85" text-anchor="end">0</text>
<text x="22.1" y="201.57" text-anchor="end">200</text>
<text x="22.1" y="181.3" text-anchor="end">400</text>
<text x="22.1" y="161.03" text-anchor="end">600</text>
<text x="22.1" y="140.75" text-anchor="end">800</text>
<text class="lb" x="78.1" y="236.3" text-anchor="middle">No. of Corners</text>
<text class="lb" transform="translate(8.4 178.45) rotate(-90)" text-anchor="middle">No. of Missing Boxes</text>
<text class="cap" x="67.8" y="254.5" text-anchor="middle">(<tspan font-weight="bold">e</tspan>)</text>
<text class="lg" x="77" y="146.85" textLength="48.6" lengthAdjust="spacingAndGlyphs">Reset Interval : 20</text>
<text class="lg" x="77" y="154.2" textLength="48.6" lengthAdjust="spacingAndGlyphs">Reset Interval : 40</text>
<text class="lg" x="77" y="161.55" textLength="48.6" lengthAdjust="spacingAndGlyphs">Reset Interval : 60</text>
<text class="lg" x="77" y="168.9" textLength="48.6" lengthAdjust="spacingAndGlyphs">Reset Interval : 80</text>
<text class="lg" x="77" y="176.25" textLength="51.9" lengthAdjust="spacingAndGlyphs">Reset Interval : 100</text>
<text x="161.3" y="227.9" text-anchor="middle">50</text>
<text x="182.74" y="227.9" text-anchor="middle">100</text>
<text x="204.18" y="227.9" text-anchor="middle">150</text>
<text x="225.62" y="227.9" text-anchor="middle">200</text>
<text x="247.06" y="227.9" text-anchor="middle">250</text>
<text x="268.5" y="227.9" text-anchor="middle">300</text>
<text x="158.9" y="221.85" text-anchor="end">0</text>
<text x="158.9" y="201.57" text-anchor="end">200</text>
<text x="158.9" y="181.3" text-anchor="end">400</text>
<text x="158.9" y="161.03" text-anchor="end">600</text>
<text x="158.9" y="140.75" text-anchor="end">800</text>
<text class="lb" x="214.9" y="236.3" text-anchor="middle">No. of Corners</text>
<text class="lb" transform="translate(145.2 178.45) rotate(-90)" text-anchor="middle">No. of Missing Boxes</text>
<text class="cap" x="204.6" y="254.5" text-anchor="middle">(<tspan font-weight="bold">f</tspan>)</text>
<text x="298.2" y="227.9" text-anchor="middle">50</text>
<text x="319.64" y="227.9" text-anchor="middle">100</text>
<text x="341.08" y="227.9" text-anchor="middle">150</text>
<text x="362.52" y="227.9" text-anchor="middle">200</text>
<text x="383.96" y="227.9" text-anchor="middle">250</text>
<text x="405.4" y="227.9" text-anchor="middle">300</text>
<text x="295.8" y="221.85" text-anchor="end">0</text>
<text x="295.8" y="201.57" text-anchor="end">200</text>
<text x="295.8" y="181.3" text-anchor="end">400</text>
<text x="295.8" y="161.03" text-anchor="end">600</text>
<text x="295.8" y="140.75" text-anchor="end">800</text>
<text class="lb" x="351.8" y="236.3" text-anchor="middle">No. of Corners</text>
<text class="lb" transform="translate(282.1 178.45) rotate(-90)" text-anchor="middle">No. of Missing Boxes</text>
<text class="cap" x="341.5" y="254.5" text-anchor="middle">(<tspan font-weight="bold">g</tspan>)</text>
<text x="435.1" y="227.9" text-anchor="middle">50</text>
<text x="456.54" y="227.9" text-anchor="middle">100</text>
<text x="477.98" y="227.9" text-anchor="middle">150</text>
<text x="499.42" y="227.9" text-anchor="middle">200</text>
<text x="520.86" y="227.9" text-anchor="middle">250</text>
<text x="542.3" y="227.9" text-anchor="middle">300</text>
<text x="432.7" y="221.85" text-anchor="end">0</text>
<text x="432.7" y="201.57" text-anchor="end">200</text>
<text x="432.7" y="181.3" text-anchor="end">400</text>
<text x="432.7" y="161.03" text-anchor="end">600</text>
<text x="432.7" y="140.75" text-anchor="end">800</text>
<text class="lb" x="488.7" y="236.3" text-anchor="middle">No. of Corners</text>
<text class="lb" transform="translate(419 178.45) rotate(-90)" text-anchor="middle">No. of Missing Boxes</text>
<text class="cap" x="478.4" y="254.5" text-anchor="middle">(<tspan font-weight="bold">h</tspan>)</text>
<text x="24.5" y="363.9" text-anchor="middle">50</text>
<text x="45.94" y="363.9" text-anchor="middle">100</text>
<text x="67.38" y="363.9" text-anchor="middle">150</text>
<text x="88.82" y="363.9" text-anchor="middle">200</text>
<text x="110.26" y="363.9" text-anchor="middle">250</text>
<text x="131.7" y="363.9" text-anchor="middle">300</text>
<text x="22.1" y="357.85" text-anchor="end">0</text>
<text x="22.1" y="337.58" text-anchor="end">200</text>
<text x="22.1" y="317.3" text-anchor="end">400</text>
<text x="22.1" y="297.03" text-anchor="end">600</text>
<text x="22.1" y="276.75" text-anchor="end">800</text>
<text class="lb" x="78.1" y="372.3" text-anchor="middle">No. of Corners</text>
<text class="lb" transform="translate(8.4 314.45) rotate(-90)" text-anchor="middle">No. of Missing Boxes</text>
<text class="cap" x="67.8" y="390.5" text-anchor="middle">(<tspan font-weight="bold">i</tspan>)</text>
<text class="lg" x="77" y="282.85" textLength="48.6" lengthAdjust="spacingAndGlyphs">Reset Interval : 20</text>
<text class="lg" x="77" y="290.2" textLength="48.6" lengthAdjust="spacingAndGlyphs">Reset Interval : 40</text>
<text class="lg" x="77" y="297.55" textLength="48.6" lengthAdjust="spacingAndGlyphs">Reset Interval : 60</text>
<text class="lg" x="77" y="304.9" textLength="48.6" lengthAdjust="spacingAndGlyphs">Reset Interval : 80</text>
<text class="lg" x="77" y="312.25" textLength="51.9" lengthAdjust="spacingAndGlyphs">Reset Interval : 100</text>
<text x="161.3" y="363.9" text-anchor="middle">50</text>
<text x="182.74" y="363.9" text-anchor="middle">100</text>
<text x="204.18" y="363.9" text-anchor="middle">150</text>
<text x="225.62" y="363.9" text-anchor="middle">200</text>
<text x="247.06" y="363.9" text-anchor="middle">250</text>
<text x="268.5" y="363.9" text-anchor="middle">300</text>
<text x="158.9" y="357.85" text-anchor="end">0</text>
<text x="158.9" y="337.58" text-anchor="end">200</text>
<text x="158.9" y="317.3" text-anchor="end">400</text>
<text x="158.9" y="297.03" text-anchor="end">600</text>
<text x="158.9" y="276.75" text-anchor="end">800</text>
<text class="lb" x="214.9" y="372.3" text-anchor="middle">No. of Corners</text>
<text class="lb" transform="translate(145.2 314.45) rotate(-90)" text-anchor="middle">No. of Missing Boxes</text>
<text class="cap" x="204.6" y="390.5" text-anchor="middle">(<tspan font-weight="bold">j</tspan>)</text>
<text x="298.2" y="363.9" text-anchor="middle">50</text>
<text x="319.64" y="363.9" text-anchor="middle">100</text>
<text x="341.08" y="363.9" text-anchor="middle">150</text>
<text x="362.52" y="363.9" text-anchor="middle">200</text>
<text x="383.96" y="363.9" text-anchor="middle">250</text>
<text x="405.4" y="363.9" text-anchor="middle">300</text>
<text x="295.8" y="357.85" text-anchor="end">0</text>
<text x="295.8" y="337.58" text-anchor="end">200</text>
<text x="295.8" y="317.3" text-anchor="end">400</text>
<text x="295.8" y="297.03" text-anchor="end">600</text>
<text x="295.8" y="276.75" text-anchor="end">800</text>
<text class="lb" x="351.8" y="372.3" text-anchor="middle">No. of Corners</text>
<text class="lb" transform="translate(282.1 314.45) rotate(-90)" text-anchor="middle">No. of Missing Boxes</text>
<text class="cap" x="341.5" y="390.5" text-anchor="middle">(<tspan font-weight="bold">k</tspan>)</text>
<text x="435.1" y="363.9" text-anchor="middle">50</text>
<text x="456.54" y="363.9" text-anchor="middle">100</text>
<text x="477.98" y="363.9" text-anchor="middle">150</text>
<text x="499.42" y="363.9" text-anchor="middle">200</text>
<text x="520.86" y="363.9" text-anchor="middle">250</text>
<text x="542.3" y="363.9" text-anchor="middle">300</text>
<text x="432.7" y="357.85" text-anchor="end">0</text>
<text x="432.7" y="337.58" text-anchor="end">200</text>
<text x="432.7" y="317.3" text-anchor="end">400</text>
<text x="432.7" y="297.03" text-anchor="end">600</text>
<text x="432.7" y="276.75" text-anchor="end">800</text>
<text class="lb" x="488.7" y="372.3" text-anchor="middle">No. of Corners</text>
<text class="lb" transform="translate(419 314.45) rotate(-90)" text-anchor="middle">No. of Missing Boxes</text>
<text class="cap" x="478.4" y="390.5" text-anchor="middle">(<tspan font-weight="bold">l</tspan>)</text></g></svg>
</body></html>
